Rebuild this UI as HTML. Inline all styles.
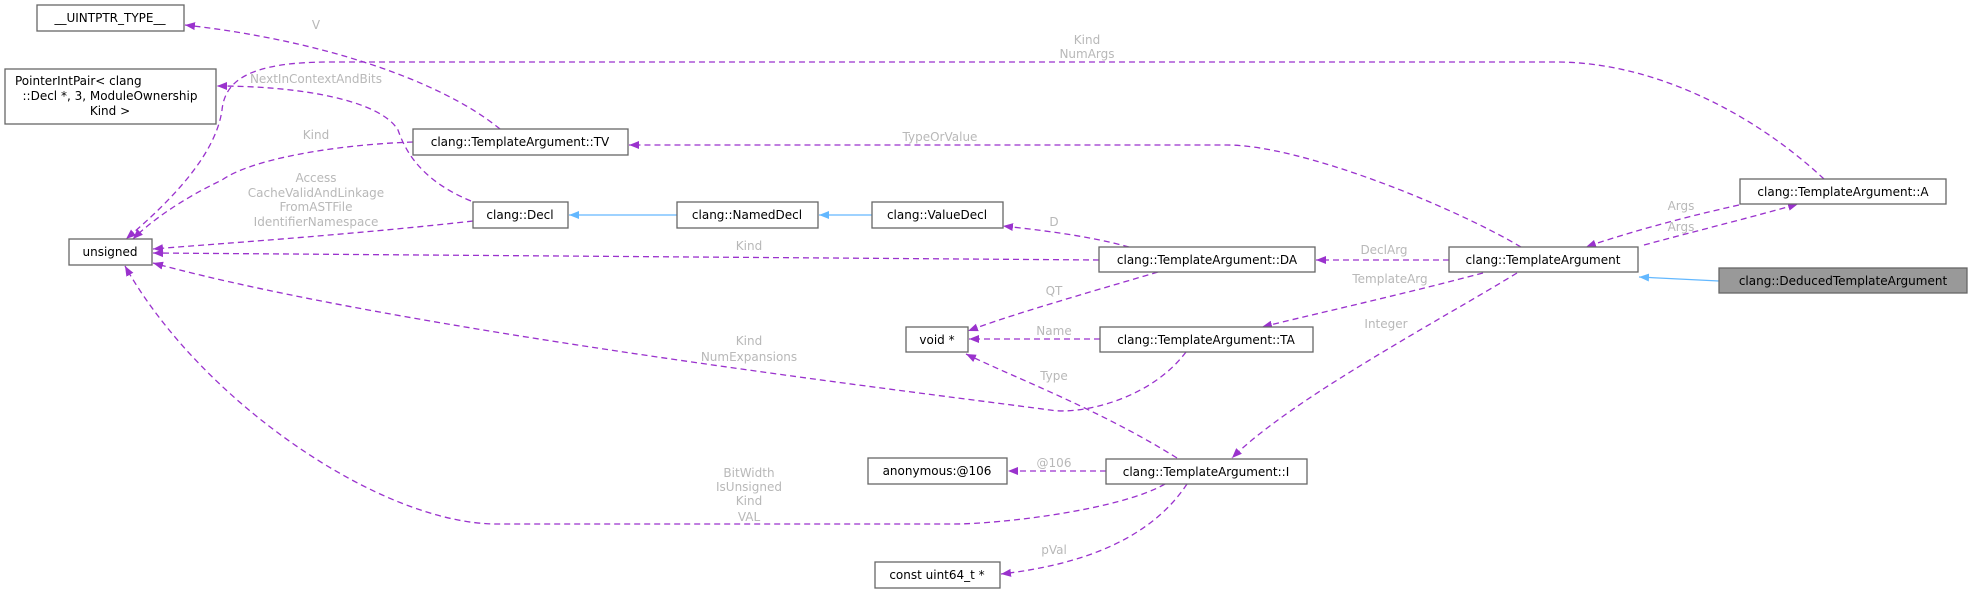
<!DOCTYPE html>
<html><head><meta charset="utf-8"><style>
html,body{margin:0;padding:0;background:#fff;}
svg{display:block;font-family:"DejaVu Sans","Liberation Sans",sans-serif;}
.n{fill:#fff;stroke:#666;stroke-width:1.3}
.t{font-size:12px;fill:#000;text-anchor:middle}
.l{font-size:12px;fill:#b8b8b8;text-anchor:middle}
.e{fill:none;stroke:#9a32cd;stroke-width:1.3;stroke-dasharray:6,4}
.b{fill:none;stroke:#63b8ff;stroke-width:1.3}
</style></head><body>
<svg width="1972" height="593" viewBox="0 0 1972 593" xmlns="http://www.w3.org/2000/svg">
<defs>
<marker id="p" viewBox="0 0 10 10" refX="10" refY="5" markerWidth="10" markerHeight="10" markerUnits="userSpaceOnUse" orient="auto"><path d="M0,1 L10,5 L0,9 z" fill="#9a32cd"/></marker>
<marker id="bl" viewBox="0 0 10 10" refX="10" refY="5" markerWidth="10" markerHeight="10" markerUnits="userSpaceOnUse" orient="auto"><path d="M0,1 L10,5 L0,9 z" fill="#63b8ff"/></marker>
</defs>

<path class="e" marker-end="url(#p)" d="M500 129 C440 80,320 40,185 25"/>
<text class="l" x="316" y="29">V</text>
<path class="e" marker-end="url(#p)" d="M471 201 C420 180,405 150,398 130 C380 100,300 86,217 86"/>
<text class="l" x="316" y="83">NextInContextAndBits</text>
<path class="e" marker-end="url(#p)" d="M1824 179 C1750 110,1650 62,1556 62 L330 62 C250 62,225 80,222 110 C215 160,160 210,126 239"/>
<text class="l" x="1087" y="44">Kind</text>
<text class="l" x="1087" y="58">NumArgs</text>
<path class="e" marker-end="url(#p)" d="M413 142 C330 145,250 160,222 180 C180 200,150 222,133 239"/>
<text class="l" x="316" y="139">Kind</text>
<path class="e" marker-end="url(#p)" d="M473 221 C350 235,200 245,153 249"/>
<text class="l" x="316" y="182">Access</text>
<text class="l" x="316" y="197">CacheValidAndLinkage</text>
<text class="l" x="316" y="211">FromASTFile</text>
<text class="l" x="316" y="226">IdentifierNamespace</text>
<path class="e" marker-end="url(#p)" d="M1099 260 L153 253"/>
<text class="l" x="749" y="250">Kind</text>
<path class="e" marker-end="url(#p)" d="M1186 352 C1150 400,1080 415,1050 410 C900 390,400 330,153 263"/>
<text class="l" x="749" y="345">Kind</text>
<text class="l" x="749" y="361">NumExpansions</text>
<path class="e" marker-end="url(#p)" d="M1165 484 C1120 510,1000 524,954 524 L497 524 C380 524,200 400,125 266"/>
<text class="l" x="749" y="477">BitWidth</text>
<text class="l" x="749" y="491">IsUnsigned</text>
<text class="l" x="749" y="505">Kind</text>
<text class="l" x="749" y="521">VAL</text>
<path class="e" marker-end="url(#p)" d="M1521 247 C1450 205,1300 145,1227 145 L629 145"/>
<text class="l" x="940" y="141">TypeOrValue</text>
<path class="e" marker-end="url(#p)" d="M1644 245 C1700 230,1760 215,1798 204"/>
<path class="e" marker-end="url(#p)" d="M1739 205 C1680 218,1620 235,1586 247"/>
<text class="l" x="1681" y="210">Args</text>
<text class="l" x="1681" y="231">Args</text>
<path class="e" marker-end="url(#p)" d="M1129 247 C1090 236,1040 230,1003 226"/>
<text class="l" x="1054" y="226">D</text>
<path class="e" marker-end="url(#p)" d="M1449 260 L1316 260"/>
<text class="l" x="1384" y="254">DeclArg</text>
<path class="e" marker-end="url(#p)" d="M1158 272 C1080 295,1010 315,968 331"/>
<text class="l" x="1054" y="295">QT</text>
<path class="e" marker-end="url(#p)" d="M1100 339 L969 339"/>
<text class="l" x="1054" y="335">Name</text>
<path class="e" marker-end="url(#p)" d="M1483 273 C1400 295,1310 315,1262 327"/>
<text class="l" x="1390" y="283">TemplateArg</text>
<path class="e" marker-end="url(#p)" d="M1517 273 C1440 320,1290 400,1232 458"/>
<text class="l" x="1386" y="328">Integer</text>
<path class="e" marker-end="url(#p)" d="M1177 458 C1100 410,1020 380,966 354"/>
<text class="l" x="1054" y="380">Type</text>
<path class="e" marker-end="url(#p)" d="M1106 471 L1008 471"/>
<text class="l" x="1054" y="467">@106</text>
<path class="e" marker-end="url(#p)" d="M1187 484 C1150 540,1080 565,1001 574"/>
<text class="l" x="1054" y="554">pVal</text>

<path class="b" marker-end="url(#bl)" d="M677 215 L569 215"/>
<path class="b" marker-end="url(#bl)" d="M872 215 L819 215"/>
<path class="b" marker-end="url(#bl)" d="M1719 281 L1639 277"/>

<rect class="n" x="37" y="5" width="147" height="26"/><text class="t" x="110" y="22">__UINTPTR_TYPE__</text>
<rect class="n" x="5" y="69" width="211" height="55"/>
<text class="t" x="15" y="85" style="text-anchor:start">PointerIntPair&lt; clang</text>
<text class="t" x="110" y="100">::Decl *, 3, ModuleOwnership</text>
<text class="t" x="110" y="115">Kind &gt;</text>
<rect class="n" x="413" y="129" width="215" height="26"/><text class="t" x="520" y="146">clang::TemplateArgument::TV</text>
<rect class="n" x="473" y="202" width="95" height="26"/><text class="t" x="520" y="219">clang::Decl</text>
<rect class="n" x="677" y="202" width="141" height="26"/><text class="t" x="747" y="219">clang::NamedDecl</text>
<rect class="n" x="872" y="202" width="131" height="26"/><text class="t" x="937" y="219">clang::ValueDecl</text>
<rect class="n" x="69" y="239" width="83" height="26"/><text class="t" x="110" y="256">unsigned</text>
<rect class="n" x="1099" y="247" width="216" height="25"/><text class="t" x="1207" y="264">clang::TemplateArgument::DA</text>
<rect class="n" x="1449" y="247" width="189" height="25"/><text class="t" x="1543" y="264">clang::TemplateArgument</text>
<rect class="n" x="1740" y="179" width="206" height="25"/><text class="t" x="1843" y="196">clang::TemplateArgument::A</text>
<rect x="1719" y="268" width="248" height="25" fill="#999" stroke="#666" stroke-width="1.3"/><text class="t" x="1843" y="285">clang::DeducedTemplateArgument</text>
<rect class="n" x="906" y="327" width="62" height="25"/><text class="t" x="937" y="344">void *</text>
<rect class="n" x="1100" y="327" width="213" height="25"/><text class="t" x="1206" y="344">clang::TemplateArgument::TA</text>
<rect class="n" x="868" y="458" width="139" height="26"/><text class="t" x="937" y="475">anonymous:@106</text>
<rect class="n" x="1106" y="459" width="201" height="25"/><text class="t" x="1206" y="476">clang::TemplateArgument::I</text>
<rect class="n" x="875" y="562" width="125" height="26"/><text class="t" x="937" y="579">const uint64_t *</text>
</svg>
</body></html>
